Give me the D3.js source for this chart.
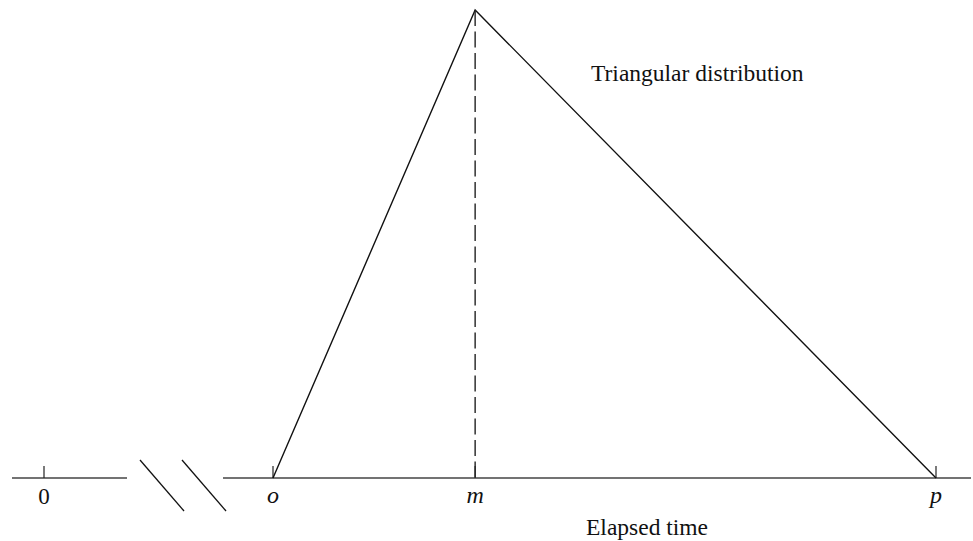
<!DOCTYPE html>
<html>
<head>
<meta charset="utf-8">
<script src="https://cdn.jsdelivr.net/npm/d3@7"></script>
<style>
  html, body { margin: 0; padding: 0; background: #fff; }
  svg text { font-family: "Liberation Serif", "Times New Roman", serif; fill: #111; }
</style>
</head>
<body>
<svg id="chart" width="973" height="541"></svg>
<script>
// Estimates on the elapsed-time axis: optimistic, most likely, pessimistic
const tickLabels = ["o", "m", "p"];
const tickValues = [2, 3, 5.28];
// Triangle vertices: (time, density)
const triTimes = [2, 3, 5.28];
const triDensity = [0, 2 / (5.28 - 2), 0];
const originLabel = "0";

const svg = d3.select("#chart");
const axisY = 478;

// Broken axis: left stub for the origin, right part for the estimates
const x = d3.scaleLinear().domain([tickValues[0], tickValues[2]]).range([273, 936]);
const y = d3.scaleLinear().domain([0, d3.max(triDensity)]).range([axisY, 10]);
const originX = 44;

const axisColor = "#444";

// left axis stub
svg.append("line").attr("x1", 12).attr("x2", 127).attr("y1", axisY).attr("y2", axisY)
  .attr("stroke", axisColor).attr("stroke-width", 1.5);
svg.append("line").attr("x1", originX).attr("x2", originX).attr("y1", axisY - 12).attr("y2", axisY)
  .attr("stroke", "#222").attr("stroke-width", 1.2);
svg.append("text").attr("x", originX).attr("y", 504).attr("text-anchor", "middle")
  .attr("font-size", 23).text(originLabel);

// break marks
[[140, 184], [182, 226]].forEach(([a, b]) => {
  svg.append("line").attr("x1", a).attr("y1", 460).attr("x2", b).attr("y2", 511)
    .attr("stroke", "#111").attr("stroke-width", 1.3);
});

// right axis
svg.append("line").attr("x1", 223).attr("x2", 971).attr("y1", axisY).attr("y2", axisY)
  .attr("stroke", axisColor).attr("stroke-width", 1.5);

// ticks and italic labels
tickValues.forEach((v, i) => {
  svg.append("line").attr("x1", x(v)).attr("x2", x(v)).attr("y1", axisY - 12).attr("y2", axisY)
    .attr("stroke", "#222").attr("stroke-width", 1.2);
  svg.append("text").attr("x", x(v)).attr("y", 503).attr("text-anchor", "middle")
    .attr("font-size", 24).attr("font-style", "italic").text(tickLabels[i]);
});

// triangle
const pts = triTimes.map((t, i) => [x(t), y(triDensity[i])]);
svg.append("path").attr("d", d3.line()(pts)).attr("fill", "none")
  .attr("stroke", "#111").attr("stroke-width", 1.4).attr("stroke-linejoin", "miter");

// dashed line from the mode down to the axis
svg.append("line").attr("x1", x(triTimes[1])).attr("x2", x(triTimes[1]))
  .attr("y1", y(triDensity[1])).attr("y2", axisY)
  .attr("stroke", "#222").attr("stroke-width", 1.4).attr("stroke-dasharray", "16,5.5");

// annotations
svg.append("text").attr("x", 591).attr("y", 81).attr("font-size", 23.5).text("Triangular distribution");
svg.append("text").attr("x", 586).attr("y", 535).attr("font-size", 23.5).text("Elapsed time");
</script>
</body>
</html>
